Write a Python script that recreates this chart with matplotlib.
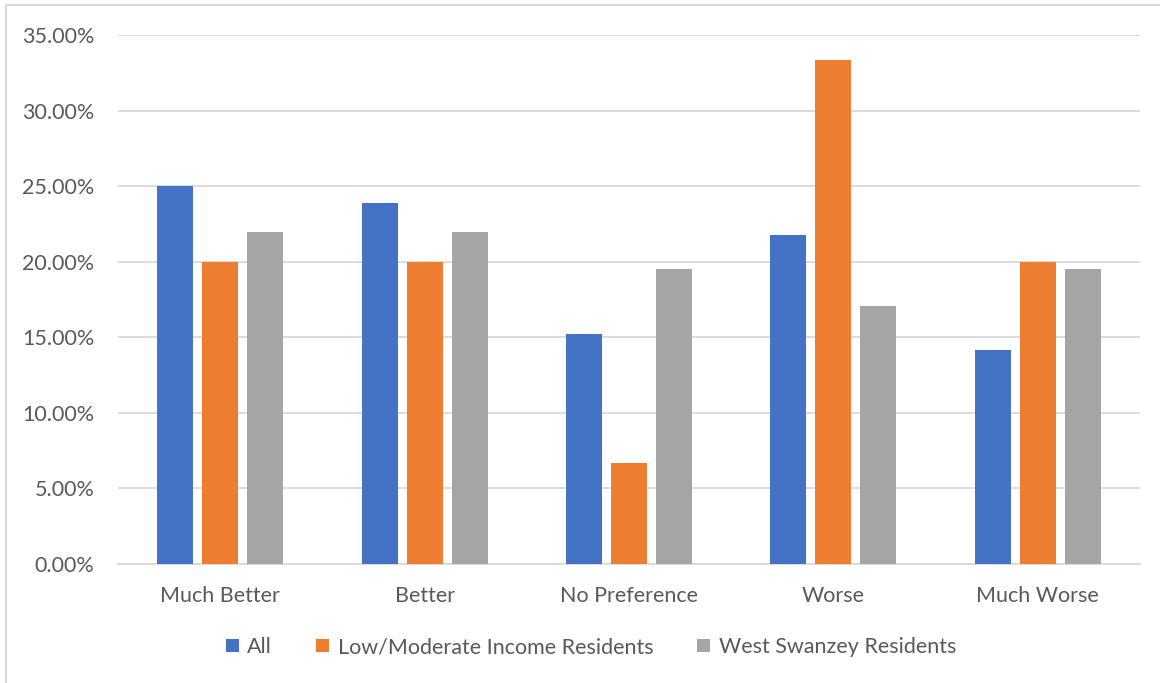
import matplotlib
matplotlib.use("Agg")
import matplotlib.pyplot as plt
from matplotlib.patches import Rectangle
from matplotlib.ticker import FuncFormatter, MultipleLocator
import numpy as np

categories = ["Much Better", "Better", "No Preference", "Worse", "Much Worse"]
series_names = ["All", "Low/Moderate Income Residents", "West Swanzey Residents"]
all_vals = [25.00, 23.91, 15.22, 21.74, 14.13]
low_mod_vals = [20.00, 20.00, 6.67, 33.33, 20.00]
west_swanzey_vals = [21.95, 21.95, 19.51, 17.07, 19.51]
colors = ["#4472C4", "#ED7D31", "#A5A5A5"]

plt.rcParams["font.family"] = ["Lato", "DejaVu Sans"]
text_color = "#595959"
grid_color = "#D9D9D9"
fs = 15.5

fig = plt.figure(figsize=(11.6, 6.83), dpi=100)
fig.patch.set_facecolor("white")

# outer chart border
fig.add_artist(Rectangle((6 / 1160, -0.01), 1.02, 1 - 5 / 683 + 0.01,
                         transform=fig.transFigure, fill=False,
                         edgecolor=grid_color, linewidth=1.5))

ax = fig.add_axes([118 / 1160, 1 - 564 / 683, (1140 - 118) / 1160, (564 - 35) / 683])

x = np.arange(len(categories))
bar_w = 0.176
step = 0.22
for i, (vals, name, c) in enumerate(zip([all_vals, low_mod_vals, west_swanzey_vals], series_names, colors)):
    ax.bar(x + (i - 1) * step, vals, width=bar_w, color=c, label=name, zorder=3)

ax.set_xlim(-0.5, len(categories) - 0.5)
ax.set_ylim(0, 35)
ax.yaxis.set_major_locator(MultipleLocator(5))
ax.yaxis.set_major_formatter(FuncFormatter(lambda v, p: f"{v:.2f}%"))
ax.set_xticks(x)
ax.set_xticklabels(categories)
ax.grid(axis="y", color=grid_color, linewidth=1.3, zorder=0)
for s in ["top", "right", "left"]:
    ax.spines[s].set_visible(False)
ax.spines["bottom"].set_color(grid_color)
ax.spines["bottom"].set_linewidth(1.3)
ax.tick_params(axis="both", length=0, labelsize=fs, labelcolor=text_color)
ax.tick_params(axis="y", pad=17)
ax.tick_params(axis="x", pad=16)

handles, labels = ax.get_legend_handles_labels()
fig.legend(handles, labels, loc="center", bbox_to_anchor=(591 / 1160, 1 - 647 / 683),
           ncol=3, frameon=False, fontsize=fs, labelcolor=text_color,
           handlelength=0.6, handleheight=0.6, handletextpad=0.4, columnspacing=2.05)

fig.savefig("out.png", dpi=100, facecolor="white")
